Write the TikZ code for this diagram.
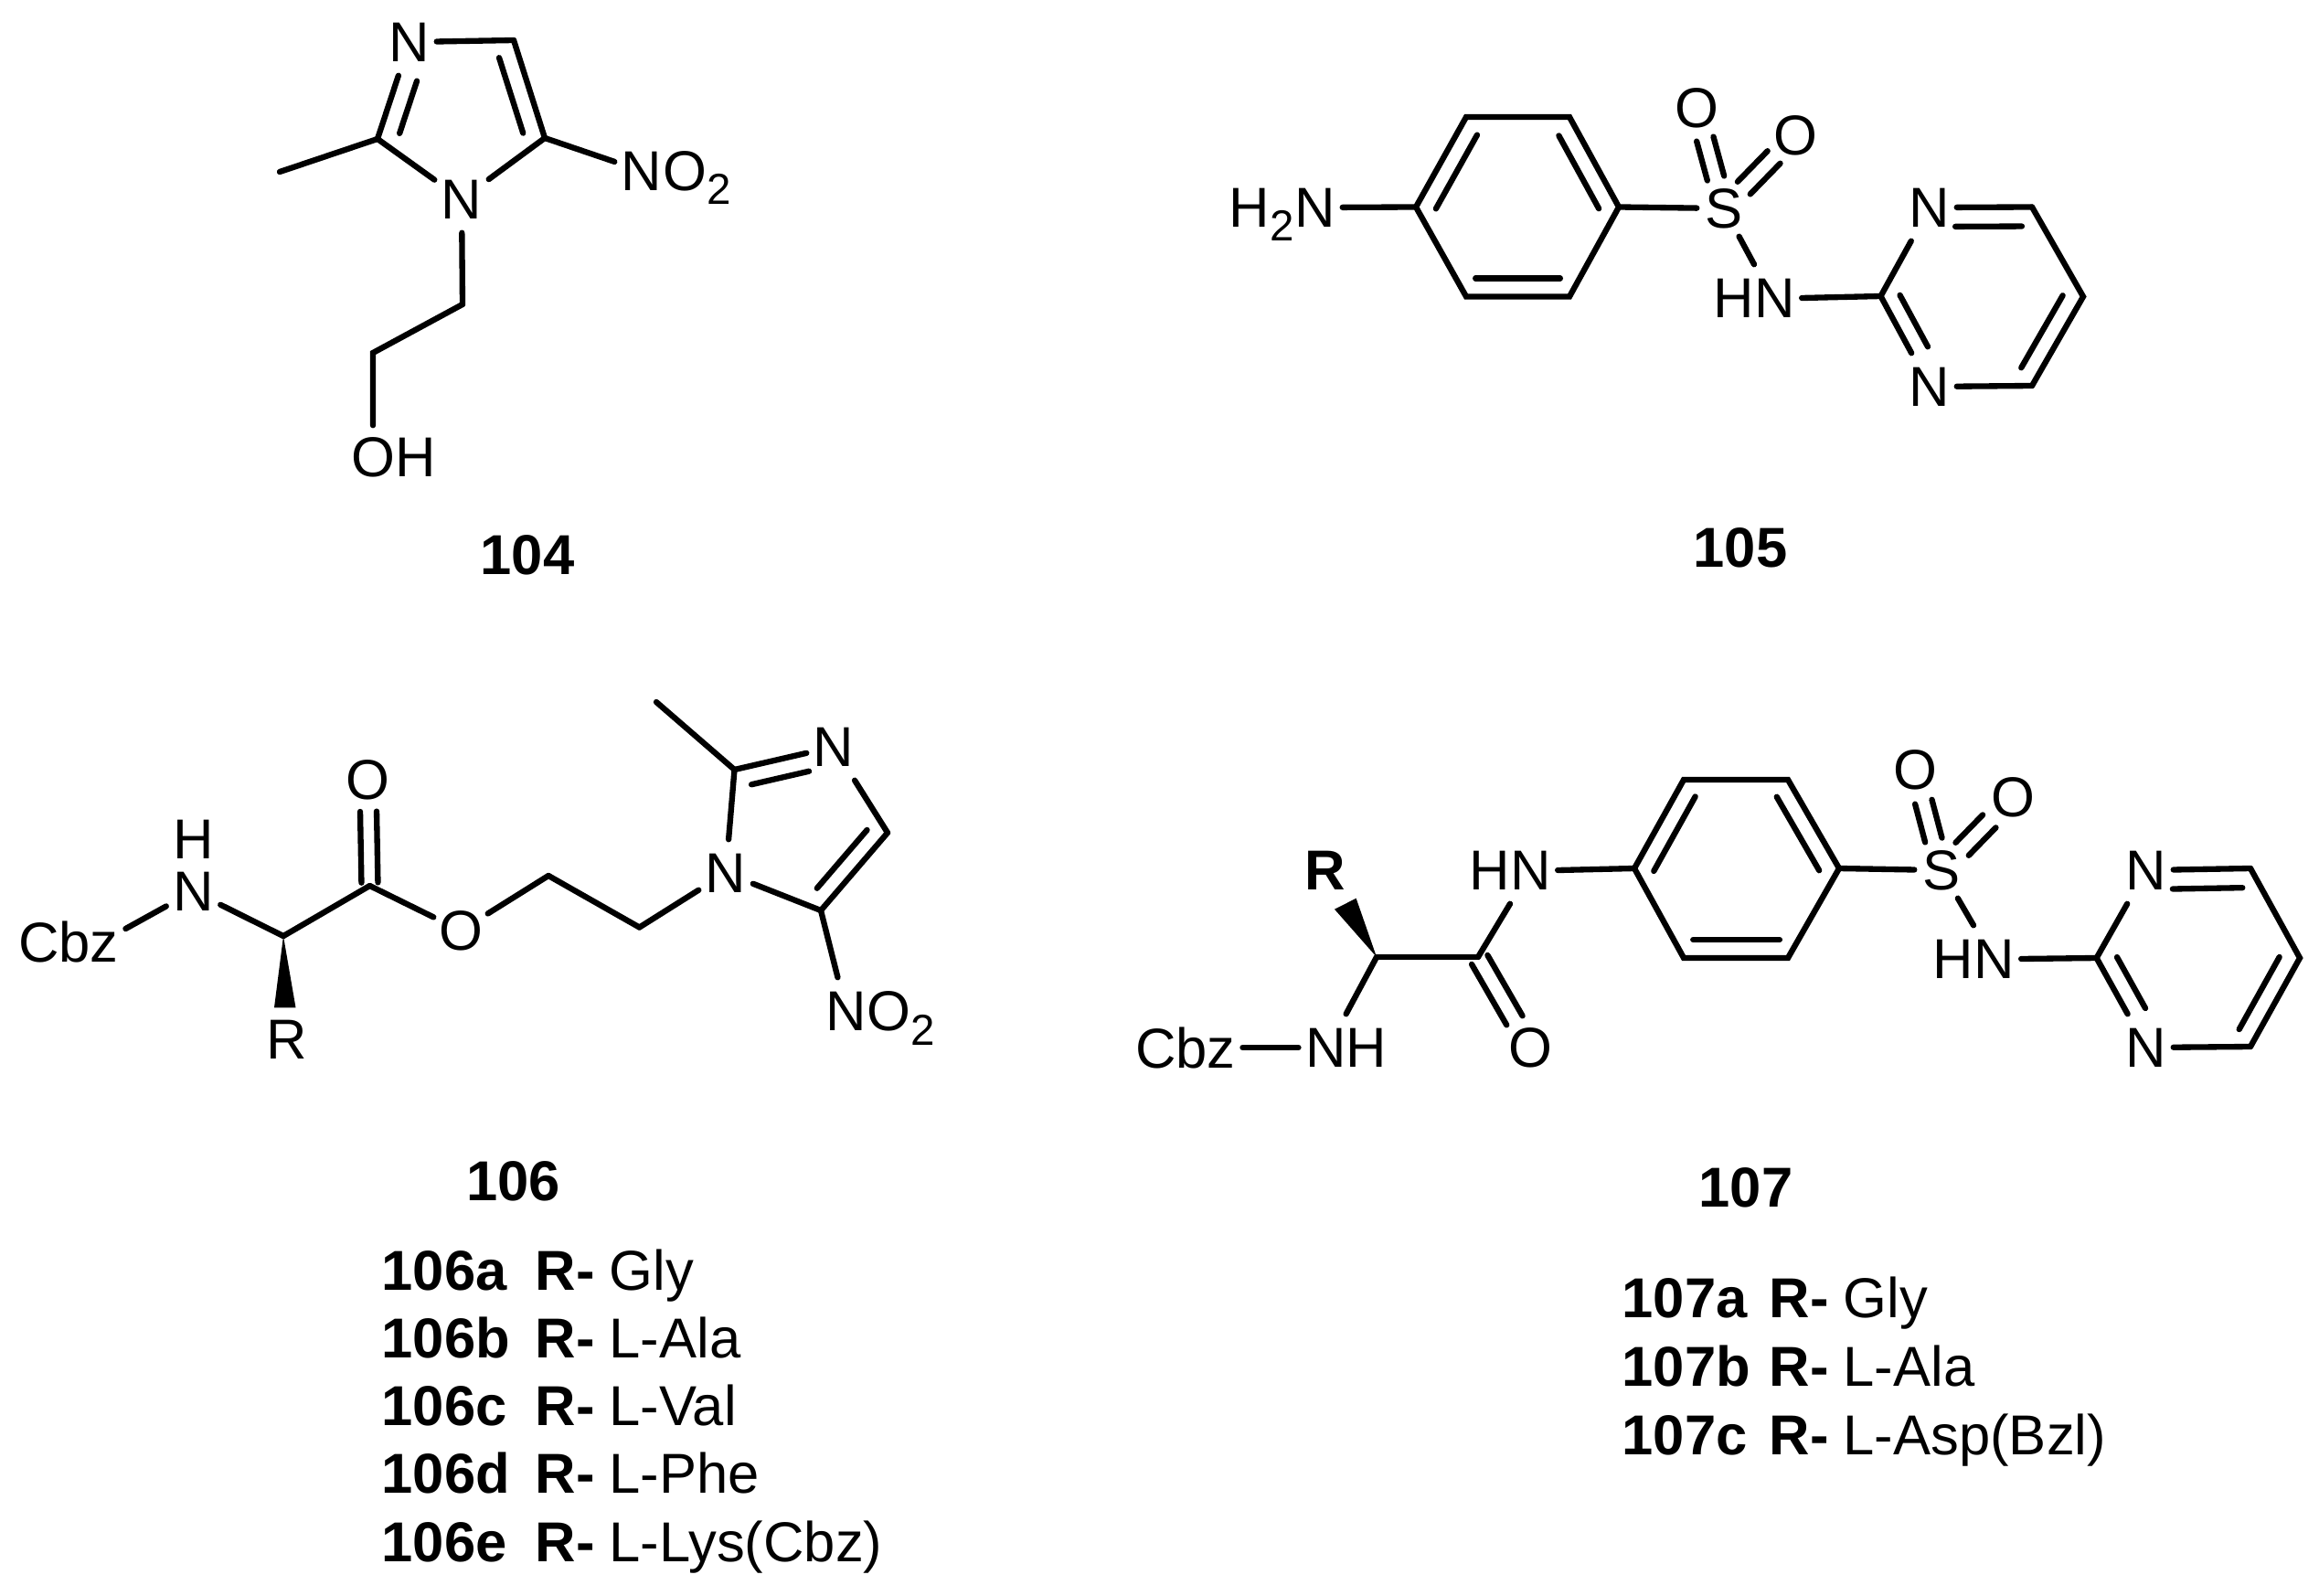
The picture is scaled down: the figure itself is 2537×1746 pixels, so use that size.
\documentclass[tikz,border=0pt]{standalone}
\usepackage{fontspec}
\setmainfont{Liberation Sans}
\usetikzlibrary{positioning,calc}
\newcommand{\nsub}[1]{\raisebox{-4.5pt}{\fontsize{13.5}{13.5}\selectfont #1}}
% inner line of a double bond, on the left of a->b
\newcommand{\inbond}[5]{\draw[bond] ($(#1)!#3!(#2)!#5!90:(#2)$) -- ($(#1)!#4!(#2)!#5!90:(#2)$);}
% two lines either side of a->b
\newcommand{\dbbond}[5]{\draw[bond] ($(#1)!#3!(#2)!#5!90:(#2)$) -- ($(#1)!#4!(#2)!#5!90:(#2)$);
  \draw[bond] ($(#1)!#3!(#2)!#5!-90:(#2)$) -- ($(#1)!#4!(#2)!#5!-90:(#2)$);}
\tikzset{
  bond/.style={line width=1.8pt,line cap=round},
  atom/.style={inner sep=0pt,minimum width=.58cm,minimum height=.72cm,font=\fontsize{17.5}{20}\selectfont},
  lbl/.style={inner xsep=.07cm,inner ysep=0pt,minimum height=.72cm,font=\fontsize{17.5}{20}\selectfont},
  sublbl/.style={inner sep=0pt,font=\fontsize{17.5}{20}\selectfont},
  tag/.style={inner sep=0pt,font=\bfseries\fontsize{17.5}{20}\selectfont},
  rowtxt/.style={inner sep=0pt,anchor=base west,font=\fontsize{17.5}{20}\selectfont}
}
\begin{document}
\begin{tikzpicture}[x=.01cm,y=-.01cm]
  \useasboundingbox (0,0) rectangle (2537,1746);
  % 104
  \node[atom] (an3) at (448,46) {N};
  \node[atom] (an1) at (505,218) {N};
  \node[atom] (ano) at (702,187) {N};
  \node[sublbl,anchor=base west] (ano2) at ($(ano.base)+(22.5,0)$) {O\nsub{2}};
  \node[lbl] (aoh) at (431,500) {OH};
  \node[tag] (tag104) at (577,607) {104};
  \coordinate (ac2) at (413,152);
  \coordinate (ac4) at (562,44);
  \coordinate (ac5) at (596,151);
  \coordinate (ame) at (306,188);
  \coordinate (aca) at (506,333);
  \coordinate (acb) at (408,386);
  \draw[bond] (ame) -- (ac2);
  \draw[bond] (ac2) -- (an3);
  \draw[bond] (an3) -- (ac4);
  \draw[bond] (ac4) -- (ac5);
  \draw[bond] (ac5) -- (an1);
  \draw[bond] (an1) -- (ac2);
  \draw[bond] (ac5) -- (ano);
  \draw[bond] (an1) -- (aca);
  \draw[bond] (aca) -- (acb) -- ($(aoh.north)+(-23,2)$);
  \inbond{an3}{ac2}{.34}{.88}{.21cm}
  \inbond{ac5}{ac4}{.11}{.88}{.21cm}
  % 105
  \node[atom] (bnh) at (1439,227) {N};
  \node[sublbl,anchor=base east] (bh2) at ($(bnh.base)+(-22.5,0)$) {H\nsub{2}};
  \node[atom,minimum height=.6cm] (bs) at (1886,228) {S};
  \node[atom] (bo1) at (1856,118) {O};
  \node[atom] (bo2) at (1964,148) {O};
  \node[lbl] (bhn) at (1919,326) {HN};
  \node[atom] (bnt) at (2111,227) {N};
  \node[atom] (bnb) at (2111,423) {N};
  \node[tag] (tag105) at (1904,599) {105};
  \coordinate (bl) at (1549,226.5);
  \coordinate (btl) at (1604,128);
  \coordinate (btr) at (1717,128);
  \coordinate (br) at (1771,226.5);
  \coordinate (bbr) at (1717,324.5);
  \coordinate (bbl) at (1604,324.5);
  \coordinate (bc2) at (2057.5,324);
  \coordinate (bc4) at (2223,226.5);
  \coordinate (bc5) at (2279,324.5);
  \coordinate (bc6) at (2223,422);
  \draw[bond] (bnh) -- (bl);
  \draw[bond] (bl) -- (btl) -- (btr) -- (br) -- (bbr) -- (bbl) -- cycle;
  \draw[bond] (br) -- (bs);
  \draw[bond] (bs) -- (bhn.north);
  \draw[bond] (bhn.east) -- (bc2);
  \draw[bond] (bc2) -- (bnt);
  \draw[bond] (bc2) -- (bnb);
  \draw[bond] (bnt) -- (bc4);
  \draw[bond] (bc4) -- (bc5) -- (bc6);
  \draw[bond] (bc6) -- (bnb);
  \inbond{bbl}{bbr}{.09}{.91}{.2cm}
  \inbond{btl}{bl}{.1}{.92}{.2cm}
  \inbond{br}{btr}{.08}{.89}{.2cm}
  \inbond{bc2}{bnb}{.08}{.65}{.19cm}
  \inbond{bc4}{bnt}{.1}{.75}{.21cm}
  \inbond{bc6}{bc5}{.1}{.91}{.2cm}
  \dbbond{bs}{bo1}{.3}{.69}{.095cm}
  \dbbond{bs}{bo2}{.28}{.7}{.097cm}
  % 106
  \node[lbl] (ccbz) at (75,1030) {Cbz};
  \node[atom] (cn) at (211.5,975) {N};
  \node[atom] (ch) at (211.5,918) {H};
  \node[atom] (cr) at (314,1137) {R};
  \node[atom] (cod) at (402.4,853) {O};
  \node[atom] (coe) at (504,1018) {O};
  \node[atom] (cn1) at (794,955) {N};
  \node[atom] (cn3) at (912,817) {N};
  \node[atom] (cno) at (925.7,1106) {N};
  \node[sublbl,anchor=base west] (cno2) at ($(cno.base)+(22.5,0)$) {O\nsub{2}};
  \node[tag] (tag106) at (561.5,1292) {106};
  \coordinate (cca) at (310,1024);
  \coordinate (cco) at (404.5,969);
  \coordinate (cm1) at (600,958);
  \coordinate (cm2) at (699.5,1014.5);
  \coordinate (cc2) at (803.5,842);
  \coordinate (cme) at (718,768);
  \coordinate (cc4) at (971,911);
  \coordinate (cc5) at (898,996);
  \draw[bond] ($(ccbz.east)+(0,-14)$) -- (cn);
  \draw[bond] (cn) -- (cca);
  \draw[bond] (cca) -- (cco);
  \draw[bond] (cco) -- (coe);
  \draw[bond] (coe) -- (cm1);
  \draw[bond] (cm1) -- (cm2);
  \draw[bond] (cm2) -- (cn1);
  \draw[bond] (cn1) -- (cc2);
  \draw[bond] (cme) -- (cc2);
  \draw[bond] (cc2) -- (cn3);
  \draw[bond] (cn3) -- (cc4);
  \draw[bond] (cc4) -- (cc5);
  \draw[bond] (cc5) -- (cn1);
  \draw[bond] (cc5) -- (cno);
  \fill (cca) -- ($(cr.north)+(-14,2)$) -- ($(cr.north)+(9.5,2)$) -- cycle;
  \dbbond{cco}{cod}{.03}{.7}{.09cm}
  \inbond{cn3}{cc2}{.29}{.87}{.2cm}
  \inbond{cc5}{cc4}{.14}{.89}{.19cm}
  \foreach \nm/\val [count=\i] in {106a/Gly,106b/L-Ala,106c/L-Val,106d/L-Phe,106e/L-Lys(Cbz)}{
    \node[rowtxt] (row\nm) at (417,{1411+74.3*(\i-1)}) {\bfseries\nm};
    \node[rowtxt] (rrow\nm) at (585,{1411+74.3*(\i-1)}) {\bfseries R-};
    \node[rowtxt] (vrow\nm) at (666,{1411+74.3*(\i-1)}) {\val};
  }
  % 107
  \node[lbl] (dcbz) at (1297,1146) {Cbz};
  \node[lbl] (dnh) at (1472.6,1146) {NH};
  \node[atom,font=\bfseries\fontsize{17.5}{20}\selectfont] (dr) at (1450,952) {R};
  \node[atom] (do) at (1674,1146) {O};
  \node[lbl] (dhn) at (1652,952) {HN};
  \node[atom,minimum height=.6cm] (ds) at (2124,952) {S};
  \node[atom] (do1) at (2095,842) {O};
  \node[atom] (do2) at (2202,872) {O};
  \node[lbl] (dhm) at (2159,1049) {HN};
  \node[atom] (dnt) at (2348,952) {N};
  \node[atom] (dnb) at (2348,1146) {N};
  \node[tag] (tag107) at (1910,1299) {107};
  \coordinate (dca) at (1506,1047);
  \coordinate (dcc) at (1617,1047);
  \coordinate (dl) at (1788,950);
  \coordinate (dtl) at (1842,853);
  \coordinate (dtr) at (1956,853);
  \coordinate (drr) at (2012,950);
  \coordinate (dbr) at (1956,1048);
  \coordinate (dbl) at (1842,1048);
  \coordinate (dc2) at (2293.6,1048);
  \coordinate (dc4) at (2462,950);
  \coordinate (dc5) at (2516,1048);
  \coordinate (dc6) at (2462,1145);
  \draw[bond] (dcbz.east) -- (dnh.west);
  \draw[bond] (dca) -- (dnh.north);
  \draw[bond] (dca) -- (dcc);
  \draw[bond] (dcc) -- (dhn.south);
  \draw[bond] (dhn.east) -- (dl);
  \draw[bond] (dl) -- (dtl) -- (dtr) -- (drr) -- (dbr) -- (dbl) -- cycle;
  \draw[bond] (drr) -- (ds);
  \draw[bond] (ds) -- (dhm.north);
  \draw[bond] (dhm.east) -- (dc2);
  \draw[bond] (dc2) -- (dnt);
  \draw[bond] (dc2) -- (dnb);
  \draw[bond] (dnt) -- (dc4);
  \draw[bond] (dc4) -- (dc5) -- (dc6);
  \draw[bond] (dc6) -- (dnb);
  \fill (dca) -- ($(dr.south)+(33.6,-6)$) -- ($(dr.south)+(10,6)$) -- cycle;
  \dbbond{dcc}{do}{.03}{.7}{.1cm}
  \inbond{dbl}{dbr}{.09}{.92}{.2cm}
  \inbond{dtl}{dl}{.09}{.93}{.2cm}
  \inbond{drr}{dtr}{.08}{.91}{.2cm}
  \inbond{dc2}{dnb}{.09}{.66}{.2cm}
  \inbond{dc4}{dnt}{.08}{.75}{.21cm}
  \inbond{dc6}{dc5}{.095}{.91}{.2cm}
  \dbbond{ds}{do1}{.3}{.68}{.095cm}
  \dbbond{ds}{do2}{.29}{.67}{.1cm}
  \foreach \nm/\val [count=\i] in {107a/Gly,107b/L-Ala,107c/L-Asp(Bzl)}{
    \node[rowtxt] (row\nm) at (1774,{1441.6+74.7*(\i-1)}) {\bfseries\nm};
    \node[rowtxt] (rrow\nm) at (1935,{1441.6+74.7*(\i-1)}) {\bfseries R-};
    \node[rowtxt] (vrow\nm) at (2016,{1441.6+74.7*(\i-1)}) {\val};
  }
\end{tikzpicture}
\end{document}
